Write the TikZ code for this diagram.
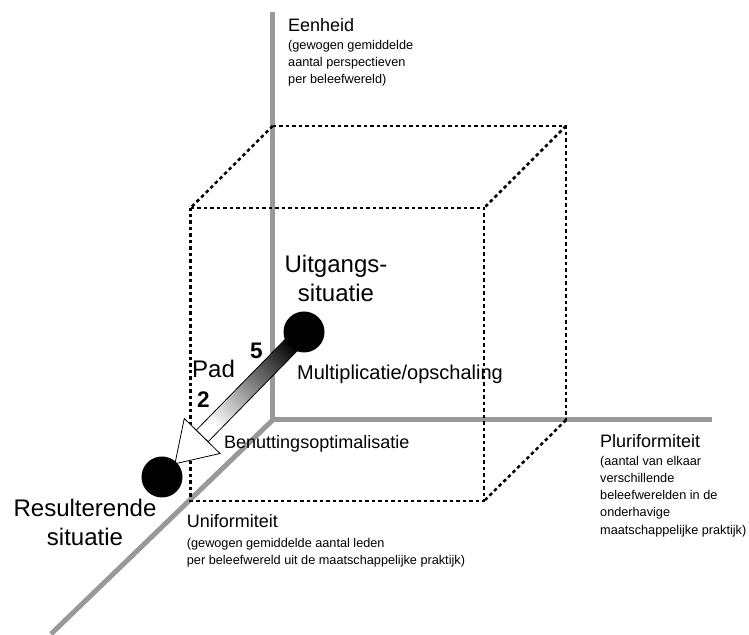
\documentclass[tikz,border=0pt]{standalone}
\usepackage{fontspec}
\setmainfont{Liberation Sans}
\usetikzlibrary{calc}
\definecolor{axisgray}{RGB}{153,153,153}
\begin{document}
\begin{tikzpicture}[x=1pt,y=1pt,
  axis/.style={draw=axisgray, line width=5pt},
  cubeedge/.style={draw=black, line width=2.5pt, dash pattern=on 3.5pt off 3pt},
  ball/.style={circle, fill=black, minimum size=41pt, inner sep=0pt},
  biglabel/.style={font=\fontsize{24}{29}\selectfont, inner sep=0pt, align=center},
  midlabel/.style={font=\fontsize{18}{22}\selectfont, inner sep=0pt, anchor=base west},
  sublabel/.style={font=\fontsize{12.7}{17}\selectfont, inner sep=0pt, anchor=base west, align=left},
  numlabel/.style={font=\fontsize{22.5}{26}\selectfont\bfseries, inner sep=0pt, anchor=base west},
  arrowline/.style={draw=black, line width=0.8pt, line join=miter}
]
\useasboundingbox (0,0) rectangle (749,634);

% three axes meeting at the origin
\coordinate (O) at (272.7,214);
\coordinate (Ytop) at (272.7,622);
\coordinate (Xend) at (712,214);
\coordinate (Zend) at (51,0);
\draw[axis] (Ytop) -- (O) -- (Xend);
\draw[axis] (O) -- (Zend);

% dashed cube: back face shares two edges with the axes
\coordinate (BTL) at (272.7,508);
\coordinate (BTR) at (566,508);
\coordinate (BBR) at (566,214);
\coordinate (FTL) at (190.5,426);
\coordinate (FTR) at (484,426);
\coordinate (FBR) at (484,133);
\coordinate (FBL) at (190.5,133);
\draw[cubeedge] (FTL) -- (FTR) -- (FBR) -- (FBL) -- cycle;
\draw[cubeedge] (BTL) -- (BTR) -- (BBR);
\draw[cubeedge] (BTL) -- (FTL);
\draw[cubeedge] (BTR) -- (FTR);
\draw[cubeedge] (BBR) -- (FBR);

% path from the start situation to the resulting situation
\coordinate (startc) at (304,302);
\coordinate (endc) at (162,157);
\coordinate (T) at ($(endc)!18.5pt!(startc)$);
\coordinate (B) at ($(startc)!145.6pt!(T)$);
\coordinate (s1) at ($(startc)!8.3pt!90:(T)$);
\coordinate (s2) at ($(startc)!8.3pt!-90:(T)$);
\coordinate (b1) at ($(B)!8.3pt!-90:(T)$);
\coordinate (b2) at ($(B)!8.3pt!90:(T)$);
\coordinate (h1) at ($(B)!25pt!-90:(T)$);
\coordinate (h2) at ($(B)!25pt!90:(T)$);
\shade[arrowline, top color=black, bottom color=white, shading angle=-45]
  (s1) -- (b2) -- (b1) -- (s2) -- cycle;
\draw[arrowline, fill=white] (h1) -- (T) -- (h2) -- cycle;

\node[ball] (start) at (startc) {};
\node[ball] (end) at (endc) {};

% labels (multi-line nodes are placed by the baseline of their last line)
\node[biglabel, anchor=base] (uit) at (336,332.3) {Uitgangs-\\situatie};
\node[biglabel, anchor=base] (res) at (85,88) {Resulterende\\situatie};
\node[midlabel, font=\fontsize{20}{24}\selectfont] (mult) at (297,254) {Multiplicatie/opschaling};
\node[midlabel] (ben) at (224,185) {Benuttingsoptimalisatie};
\node[biglabel, anchor=base west] (pad) at (192,256.7) {Pad};
\node[numlabel] (five) at (250,275.7) {5};
\node[numlabel] (two) at (197,226) {2};

\node[midlabel] (eenh) at (288,602) {Eenheid};
\node[sublabel] (eenhsub) at (288,550.7) {(gewogen gemiddelde\\aantal perspectieven\\per beleefwereld)};
\node[midlabel] (pluri) at (600,186.7) {Pluriformiteit};
\node[sublabel, font=\fontsize{12.7}{17.3}\selectfont] (plurisub) at (600,99.7) {(aantal van elkaar\\verschillende\\beleefwerelden in de\\onderhavige\\maatschappelijke praktijk)};
\node[midlabel] (uni) at (186.7,106) {Uniformiteit};
\node[sublabel] (unisub) at (186.7,69.7) {(gewogen gemiddelde aantal leden\\per beleefwereld uit de maatschappelijke praktijk)};
\end{tikzpicture}
\end{document}
